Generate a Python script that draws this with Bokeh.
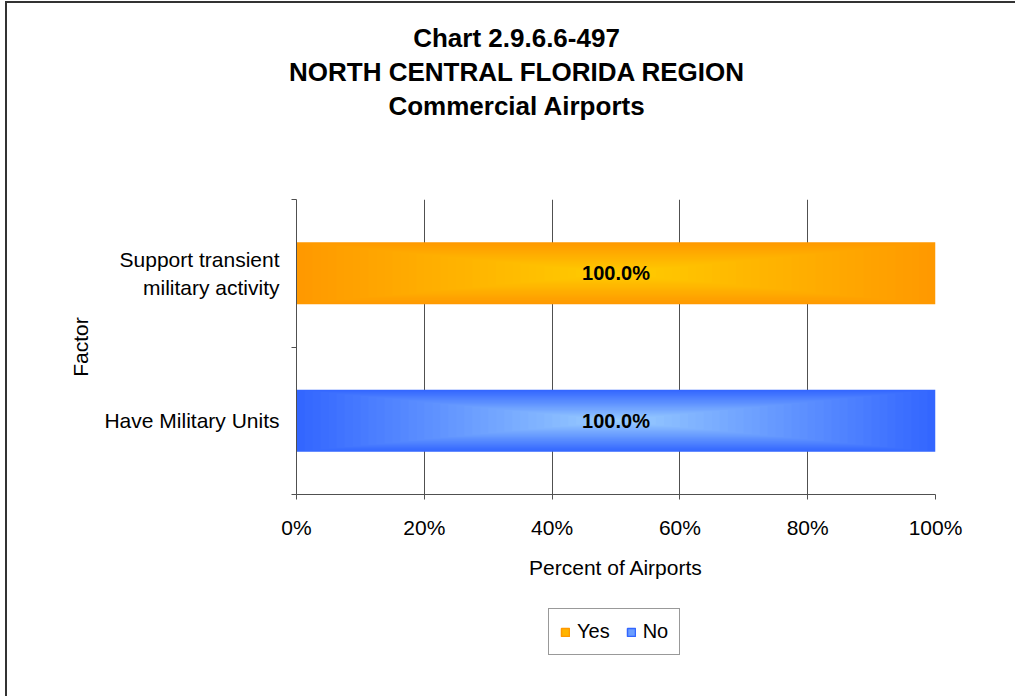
import glob
import subprocess
from bokeh.plotting import figure
from bokeh.layouts import column
from bokeh.models import Range1d, FixedTicker, PrintfTickFormatter, Legend, LegendItem, Title
from bokeh.embed import file_html
from bokeh.resources import INLINE
from bokeh.core.properties import value

# ---------------- data ----------------
title_lines = ["Chart 2.9.6.6-497", "NORTH CENTRAL FLORIDA REGION", "Commercial Airports"]
categories = ["Have Military Units", "Support transient\nmilitary activity"]  # bottom -> top
series_names = ["Yes", "No"]
yes_values = [0.0, 100.0]
no_values = [100.0, 0.0]
x_ticks = [0, 20, 40, 60, 80, 100]
x_axis_title = "Percent of Airports"
y_axis_title = "Factor"

# ---------------- style ----------------
FONT = "Liberation Sans"
TITLE_SIZE = 26
outer_col = {"Yes": "#FF9900", "No": "#3366FF"}
inner_col = {"Yes": "#FFCC00", "No": "#99CCFF"}
AXIS_COL = "#505050"

W = 1008
H_MAIN = 587
H_LEG = 106
FL, FR, FT, FB = 289, 928, 196, 491  # frame edges on the main canvas
TITLE_CENTRE = 220                    # title centre, px right of frame's left edge


def text_width(txt, size):
    try:
        from PIL import ImageFont
        paths = []
        try:
            out = subprocess.run(["fc-match", "-f", "%{file}", "Liberation Sans:bold"],
                                 capture_output=True, text=True, timeout=5).stdout.strip()
            if out:
                paths.append(out)
        except Exception:
            pass
        paths += glob.glob("/usr/share/fonts/**/LiberationSans-Bold.ttf", recursive=True)
        for pth in paths:
            try:
                return ImageFont.truetype(pth, size).getlength(txt)
            except Exception:
                continue
    except Exception:
        pass
    return len(txt) * 0.63 * size


def interp(c1, c2, t):
    a = [int(c1[i:i + 2], 16) for i in (1, 3, 5)]
    b = [int(c2[i:i + 2], 16) for i in (1, 3, 5)]
    return "#%02x%02x%02x" % tuple(round(x + (y - x) * t) for x, y in zip(a, b))


p = figure(frame_width=FR - FL, frame_height=FB - FT, output_backend="svg", toolbar_location=None,
           x_range=Range1d(0, 100), y_range=Range1d(0, len(categories)),
           min_border_left=FL, min_border_right=W - FR,
           min_border_top=FT, min_border_bottom=H_MAIN - FB)
p.outline_line_color = None
p.background_fill_color = "white"
p.border_fill_color = "white"

# grid
p.ygrid.grid_line_color = None
p.xgrid.grid_line_color = AXIS_COL
p.xgrid.grid_line_width = 1

# x axis
xa = p.xaxis[0]
xa.ticker = FixedTicker(ticks=x_ticks)
xa.formatter = PrintfTickFormatter(format="%d%%")
xa.axis_line_color = AXIS_COL
xa.major_tick_line_color = AXIS_COL
xa.major_tick_out = 5
xa.major_tick_in = 0
xa.minor_tick_line_color = None
xa.major_label_text_font = FONT
xa.major_label_text_font_size = "21px"
xa.major_label_text_color = "black"
xa.major_label_standoff = 16
xa.axis_label = x_axis_title
xa.axis_label_text_font = FONT
xa.axis_label_text_font_size = "21px"
xa.axis_label_text_font_style = "normal"
xa.axis_label_text_color = "black"
xa.axis_label_standoff = 14

# y axis: labels at category centres, ticks at category boundaries
n = len(categories)
centres = [i + 0.5 for i in range(n)]
ya = p.yaxis[0]
ya.ticker = FixedTicker(ticks=centres, minor_ticks=list(range(n + 1)))
ya.major_label_overrides = {c: lab for c, lab in zip(centres, categories)}
ya.axis_line_color = AXIS_COL
ya.major_tick_line_color = None
ya.major_tick_out = 0
ya.major_tick_in = 0
ya.minor_tick_line_color = AXIS_COL
ya.minor_tick_out = 5
ya.minor_tick_in = 0
ya.major_label_text_font = FONT
ya.major_label_text_font_size = "21px"
ya.major_label_text_color = "black"
ya.major_label_standoff = 12
ya.axis_label = y_axis_title
ya.axis_label_text_font = FONT
ya.axis_label_text_font_size = "21px"
ya.axis_label_text_font_style = "normal"
ya.axis_label_text_color = "black"
ya.axis_label_standoff = 9

BAR_H = 0.42
N_LAYERS = 40
lefts = {"Yes": [0.0] * n, "No": list(yes_values)}
rights = {"Yes": list(yes_values), "No": [a + b for a, b in zip(yes_values, no_values)]}
values = {"Yes": yes_values, "No": no_values}

lab_x, lab_y, lab_t = [], [], []
for name in series_names:
    idx = [i for i in range(n) if values[name][i] > 0]
    ys = [centres[i] for i in idx]
    L = [lefts[name][i] for i in idx]
    R = [rights[name][i] for i in idx]
    p.hbar(y=ys, left=L, right=R, height=BAR_H, fill_color=outer_col[name], line_color=None)
    for k in range(1, N_LAYERS):
        s = 1 - k / N_LAYERS
        col = interp(outer_col[name], inner_col[name], k / (N_LAYERS - 1))
        sh = (1 - s) / 2
        lk = [l + (r - l) * sh for l, r in zip(L, R)]
        rk = [r - (r - l) * sh for l, r in zip(L, R)]
        p.hbar(y=ys, left=lk, right=rk, height=BAR_H * s, fill_color=col, line_color=None)
    for i in idx:
        lab_x.append((lefts[name][i] + rights[name][i]) / 2)
        lab_y.append(centres[i])
        lab_t.append("%.1f%%" % values[name][i])

p.text(x=lab_x, y=lab_y, text=lab_t, text_font=value(FONT), text_font_style="bold",
       text_font_size="20px", text_align="center", text_baseline="middle", text_color="black")

# title: stacked upward from the frame (first added sits nearest the frame)
p.add_layout(Title(text=" ", text_font_size="1px", standoff=75), "above")
for line in reversed(title_lines):
    off = TITLE_CENTRE - text_width(line, TITLE_SIZE) / 2
    p.add_layout(Title(text=line, align="left", offset=off, standoff=2,
                       text_font=FONT, text_font_style="bold",
                       text_font_size="%dpx" % TITLE_SIZE, text_color="black"), "above")

# ---------------- legend strip (own small figure under the chart; frames are aligned) ----------------
pl = figure(width=W, height=H_LEG, output_backend="svg", toolbar_location=None,
            x_range=Range1d(0, 1), y_range=Range1d(0, 1),
            x_axis_location=None, y_axis_location=None, min_border=0)
pl.outline_line_color = None
pl.grid.visible = False
pl.background_fill_color = "white"
pl.border_fill_color = "white"
# swatch renderers sit outside the visible range; only their legend glyphs show
swatches = {nm: pl.hbar(y=[-5], left=[0], right=[0], height=0.5,
                        fill_color=interp(outer_col[nm], inner_col[nm], 0.55),
                        line_color=outer_col[nm], line_width=1.5) for nm in series_names}
legend = Legend(items=[LegendItem(label=nm, renderers=[swatches[nm]]) for nm in series_names],
                orientation="horizontal", location=(252, 41))
legend.label_text_font = FONT
legend.label_text_font_size = "20px"
legend.label_text_color = "black"
legend.glyph_width = 10
legend.glyph_height = 10
legend.label_standoff = 7
legend.spacing = 16
legend.padding = 11
legend.label_height = 18
legend.margin = 0
legend.border_line_color = "#333333"
legend.border_line_width = 1
legend.background_fill_alpha = 1
pl.add_layout(legend)

layout = column(p, pl, spacing=0,
                styles={"margin-left": "5px", "margin-top": "1px",
                        "border-left": "2px solid #333333", "border-top": "2px solid #333333"})

open("out.html", "w").write(file_html(layout, INLINE))
